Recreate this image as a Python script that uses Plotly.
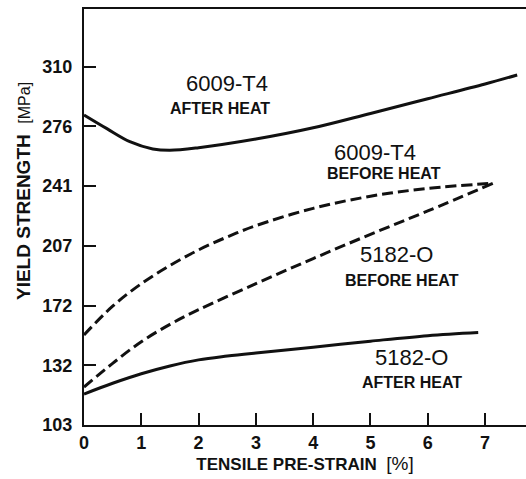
import plotly.graph_objects as go

# --- data ---
strain_6009_after = [0.0, 0.4, 0.8, 1.2, 1.5, 2.0, 3.0, 4.0, 5.0, 6.0, 7.0, 7.56]
ys_6009_after = [282.4, 274.5, 267.0, 262.8, 262.0, 263.5, 268.5, 275.0, 283.3, 291.8, 300.3, 305.5]

strain_6009_before = [0.0, 0.5, 1.0, 1.5, 2.0, 2.5, 3.0, 4.0, 5.0, 6.0, 7.14]
ys_6009_before = [155.4, 172.0, 185.0, 195.5, 204.5, 212.0, 218.5, 228.5, 235.5, 240.0, 243.0]

strain_5182_before = [0.0, 0.5, 1.0, 1.5, 2.0, 3.0, 4.0, 5.0, 6.0, 7.14]
ys_5182_before = [125.3, 139.0, 151.5, 161.5, 170.0, 185.0, 199.5, 213.5, 227.0, 243.0]

strain_5182_after = [0.0, 0.5, 1.0, 1.5, 2.0, 2.5, 3.0, 4.0, 5.0, 6.0, 6.88]
ys_5182_after = [121.3, 127.5, 133.0, 137.5, 141.0, 143.2, 145.0, 148.3, 151.8, 155.0, 156.8]

x_ticks = [0, 1, 2, 3, 4, 5, 6, 7]
y_tickvals = [103.4, 137.9, 172.4, 206.8, 241.3, 275.8, 310.3]
y_ticktext = ["103", "132", "172", "207", "241", "276", "310"]

FONT = "Arial, 'Liberation Sans', sans-serif"
INK = "#111111"

fig = go.Figure()

def add(x, y, dash):
    fig.add_trace(go.Scatter(
        x=x, y=y, mode="lines",
        line=dict(color=INK, width=3, dash=dash, shape="spline", smoothing=1.0),
        showlegend=False, hoverinfo="skip"))

add(strain_6009_after, ys_6009_after, "solid")
add(strain_6009_before, ys_6009_before, "11px,5px")
add(strain_5182_before, ys_5182_before, "11px,5px")
add(strain_5182_after, ys_5182_after, "solid")

labels = [
    ("6009-T4", 2.50, 300.3, False, 22),
    ("AFTER HEAT", 2.37, 286.4, True, 16),
    ("6009-T4", 5.08, 261.0, False, 22),
    ("BEFORE HEAT", 5.24, 248.9, True, 16),
    ("5182-O", 5.46, 201.6, False, 22),
    ("BEFORE HEAT", 5.55, 187.1, True, 16),
    ("5182-O", 5.72, 142.1, False, 22),
    ("AFTER HEAT", 5.72, 128.2, True, 16),
]
for t, x, y, bold, size in labels:
    fig.add_annotation(
        x=x, y=y, xref="x", yref="y", showarrow=False,
        text=f"<b>{t}</b>" if bold else t,
        font=dict(family=FONT, size=size, color=INK))

# y-axis title (placed as rotated text, sitting slightly above the axis centre)
fig.add_annotation(
    x=-0.138, y=0.5625, xref="paper", yref="paper", showarrow=False,
    textangle=-90, xanchor="center", yanchor="middle",
    text="<b>YIELD STRENGTH</b>&nbsp;&nbsp;<span style='font-size:16px'>[MPa]</span>",
    font=dict(family=FONT, size=19, color=INK))

fig.update_layout(
    width=526, height=479,
    margin=dict(l=84, r=0, t=9, b=54),
    paper_bgcolor="white", plot_bgcolor="white",
    font=dict(family=FONT, color=INK),
)
fig.update_xaxes(
    range=[0, 7.714], tickvals=x_ticks, ticktext=[f"<b>{v}</b>" for v in x_ticks],
    ticks="inside", ticklen=12, tickwidth=1.5, tickcolor=INK,
    showline=True, linewidth=2, linecolor=INK, mirror=True,
    showgrid=False, zeroline=False,
    tickfont=dict(size=18, family=FONT, color=INK),
    ticklabelstandoff=0,
    title=dict(text="<b>TENSILE PRE-STRAIN</b>&nbsp;&nbsp;<span style='font-size:19px'>[%]</span>",
               font=dict(size=17, family=FONT, color=INK), standoff=6),
)
fig.update_yaxes(
    range=[103.4, 343.6], tickvals=y_tickvals, ticktext=[f"<b>{t}</b>" for t in y_ticktext],
    ticks="inside", ticklen=12, tickwidth=1.5, tickcolor=INK,
    showline=True, linewidth=2, linecolor=INK,
    showgrid=False, zeroline=False,
    tickfont=dict(size=18, family=FONT, color=INK),
    ticklabelstandoff=6,
)

fig.write_html("out.html")
